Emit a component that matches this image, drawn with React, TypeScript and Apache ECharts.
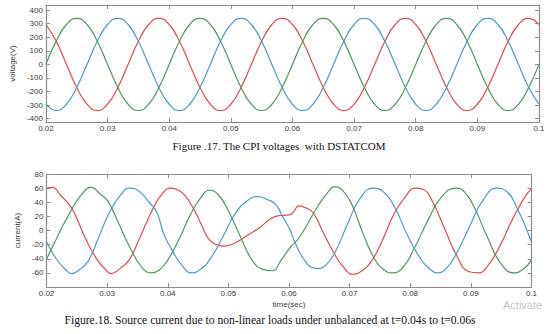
import React, { useEffect, useRef } from "react";
import * as echarts from "echarts";

// ---------- Figure 17: CPI voltages (V) ----------
const voltTime = [
  0.02, 0.02167, 0.02333, 0.025, 0.02667, 0.02833, 0.03, 0.03167, 0.03333, 0.035, 0.03667, 0.03833,
  0.04, 0.04167, 0.04333, 0.045, 0.04667, 0.04833, 0.05, 0.05167, 0.05333, 0.055, 0.05667, 0.05833,
  0.06, 0.06167, 0.06333, 0.065, 0.06667, 0.06833, 0.07, 0.07167, 0.07333, 0.075, 0.07667, 0.07833,
  0.08, 0.08167, 0.08333, 0.085, 0.08667, 0.08833, 0.09, 0.09167, 0.09333, 0.095, 0.09667, 0.09833,
  0.1,
];
const voltRed = [
  294, 170, 0, -170, -294, -340, -294, -170, 0, 170, 294, 340,
  294, 170, 0, -170, -294, -340, -294, -170, 0, 170, 294, 340,
  294, 170, 0, -170, -294, -340, -294, -170, 0, 170, 294, 340,
  294, 170, 0, -170, -294, -340, -294, -170, 0, 170, 294, 340,
  294,
];
const voltGreen = [
  0, 170, 294, 340, 294, 170, 0, -170, -294, -340, -294, -170,
  0, 170, 294, 340, 294, 170, 0, -170, -294, -340, -294, -170,
  0, 170, 294, 340, 294, 170, 0, -170, -294, -340, -294, -170,
  0, 170, 294, 340, 294, 170, 0, -170, -294, -340, -294, -170,
  0,
];
const voltBlue = [
  -294, -340, -294, -170, 0, 170, 294, 340, 294, 170, 0, -170,
  -294, -340, -294, -170, 0, 170, 294, 340, 294, 170, 0, -170,
  -294, -340, -294, -170, 0, 170, 294, 340, 294, 170, 0, -170,
  -294, -340, -294, -170, 0, 170, 294, 340, 294, 170, 0, -170,
  -294,
];
const voltTicks = [-400, -300, -200, -100, 0, 100, 200, 300, 400];

// ---------- Figure 18: source currents (A) ----------
const redTime = [
  0.02, 0.021, 0.0222, 0.0242, 0.0261, 0.0281, 0.0297, 0.0307, 0.0321, 0.0336, 0.0355, 0.0374,
  0.039, 0.0405, 0.0418, 0.0429, 0.0443, 0.0454, 0.0466, 0.0477, 0.0493, 0.0512, 0.0533, 0.0553,
  0.0567, 0.0583, 0.06, 0.0608, 0.0616, 0.0628, 0.064, 0.0656, 0.0673, 0.069, 0.0706, 0.0722,
  0.0737, 0.0754, 0.0773, 0.0792, 0.0808, 0.0822, 0.0836, 0.0855, 0.0877, 0.0896, 0.0912, 0.0927,
  0.0949, 0.0971, 0.0991, 0.1,
];
const redCurrent = [
  60, 61, 51, 31, -5, -38, -55, -61, -54, -42, -8, 28,
  51, 60, 57, 49, 30, 11, -10, -19, -22, -17, -6, 5,
  15, 21, 22, 27, 35, 32, 25, -2, -30, -52, -62, -56,
  -42, -14, 23, 48, 60, 58, 42, 6, -36, -58, -60, -51,
  -20, 20, 50, 59,
];
const greenTime = [
  0.02, 0.0218, 0.0239, 0.0258, 0.0274, 0.0288, 0.0301, 0.0318, 0.034, 0.0358, 0.0373, 0.0386,
  0.04, 0.0421, 0.0436, 0.0454, 0.047, 0.0483, 0.05, 0.052, 0.054, 0.0557, 0.0572, 0.0587,
  0.0602, 0.0616, 0.0631, 0.0648, 0.0664, 0.0675, 0.0689, 0.0704, 0.0722, 0.0741, 0.0757, 0.0771,
  0.0788, 0.0805, 0.0829, 0.0852, 0.0876, 0.0889, 0.0905, 0.0927, 0.0949, 0.0971, 0.0986, 0.1,
];
const greenCurrent = [
  -41, -9, 26, 51, 61, 52, 42, 12, -28, -53, -60, -56,
  -42, -8, 20, 46, 57, 51, 28, -9, -43, -55, -57, -42,
  -24, -11, 10, 35, 54, 62, 56, 36, -4, -40, -56, -60,
  -52, -28, 14, 48, 60, 55, 34, -9, -46, -60, -55, -42,
];
const blueTime = [
  0.02, 0.0216, 0.0232, 0.0241, 0.0255, 0.0269, 0.0285, 0.0303, 0.0322, 0.0338, 0.0355, 0.0369,
  0.0382, 0.0393, 0.0406, 0.0424, 0.044, 0.0454, 0.0471, 0.0492, 0.0512, 0.0534, 0.0549, 0.0564,
  0.0578, 0.059, 0.0601, 0.061, 0.0624, 0.064, 0.065, 0.0663, 0.0676, 0.0696, 0.0717, 0.0739,
  0.0755, 0.0773, 0.0795, 0.0814, 0.0834, 0.0845, 0.0859, 0.0876, 0.0898, 0.092, 0.0943, 0.0958,
  0.0973, 0.1,
];
const blueCurrent = [
  -16, -40, -56, -61, -55, -43, -12, 24, 50, 60, 54, 40,
  26, -4, -26, -50, -60, -55, -39, -7, 25, 44, 48, 44,
  37, 19, 2, -17, -40, -53, -54, -47, -31, 8, 45, 60,
  55, 35, -6, -36, -56, -60, -54, -33, 6, 43, 60, 56,
  38, -16,
];
const currentTicks = [-60, -40, -20, 0, 20, 40, 60, 80];

const caption17 = "Figure .17. The CPI voltages  with DSTATCOM";
const caption18 = "Figure.18. Source current due to non-linear loads under unbalanced at t=0.04s to t=0.06s";

const RED = "#d9504f";
const GREEN = "#4e9a58";
const BLUE = "#4c9cc6";
const FRAME = "#8c8c8c";
const LABEL = "#3c3c3c";

const pairs = (t: number[], v: number[]) => t.map((x, i) => [x, v[i]]);

export default function App() {
  const ref = useRef<HTMLDivElement>(null);
  useEffect(() => {
    if (!ref.current) return;
    const chart = echarts.init(ref.current, null, { renderer: "svg" });
    const fmtX = (v: number) => String(Math.round(v * 100) / 100);
    const labelStyle = { fontFamily: "Liberation Sans", fontSize: 8, color: LABEL };
    const xBottom = (gridIndex: number, extra: any = {}) => ({
      type: "value",
      gridIndex,
      position: "bottom",
      min: 0.02,
      max: 0.1,
      interval: 0.01,
      axisLine: { show: true, onZero: false, lineStyle: { color: FRAME, width: 1.2 } },
      axisTick: { show: true, inside: true, length: 4, lineStyle: { color: FRAME } },
      axisLabel: { ...labelStyle, margin: 2, formatter: fmtX },
      splitLine: { show: false },
      ...extra,
    });
    const xTop = (gridIndex: number) => ({
      type: "value",
      gridIndex,
      position: "top",
      min: 0.02,
      max: 0.1,
      interval: 0.01,
      axisLine: { show: true, onZero: false, lineStyle: { color: FRAME, width: 1.2 } },
      axisTick: { show: true, inside: true, length: 4, lineStyle: { color: FRAME } },
      axisLabel: { show: false },
      splitLine: { show: false },
    });
    const yLeft = (gridIndex: number, min: number, max: number, ticks: number[], name: string, nameGap: number) => ({
      type: "value",
      gridIndex,
      position: "left",
      min,
      max,
      name,
      nameLocation: "middle",
      nameRotate: 90,
      nameGap,
      nameTextStyle: { ...labelStyle },
      axisLine: { show: true, onZero: false, lineStyle: { color: FRAME, width: 1.2 } },
      axisTick: { show: true, inside: true, length: 4, customValues: ticks, lineStyle: { color: FRAME } },
      axisLabel: { ...labelStyle, margin: 3, customValues: ticks },
      splitLine: { show: false },
    });
    const yRight = (gridIndex: number, min: number, max: number, ticks: number[]) => ({
      type: "value",
      gridIndex,
      position: "right",
      min,
      max,
      axisLine: { show: true, onZero: false, lineStyle: { color: FRAME, width: 1.2 } },
      axisTick: { show: true, inside: true, length: 4, customValues: ticks, lineStyle: { color: FRAME } },
      axisLabel: { show: false },
      splitLine: { show: false },
    });
    const line = (name: string, data: number[][], color: string, xi: number, yi: number) => ({
      name,
      type: "line",
      xAxisIndex: xi,
      yAxisIndex: yi,
      data,
      smooth: 0.5,
      showSymbol: false,
      lineStyle: { color, width: 1.2 },
      itemStyle: { color },
    });
    const captionStyle = {
      fontFamily: "Liberation Serif",
      fontSize: 11,
      fontWeight: "normal",
      fill: "#111",
      align: "center",
      verticalAlign: "middle",
    };
    chart.setOption({
      animation: false,
      backgroundColor: "#ffffff",
      grid: [
        { left: 43, top: 5, width: 496, height: 117 },
        { left: 46.5, top: 174, width: 485, height: 113 },
      ],
      xAxis: [
        xBottom(0),
        xTop(0),
        xBottom(1, {
          name: "time(sec)",
          nameLocation: "middle",
          nameGap: 13,
          nameTextStyle: { ...labelStyle },
        }),
        xTop(1),
      ],
      yAxis: [
        yLeft(0, -425, 438, voltTicks, "voltage(V)", 25),
        yRight(0, -425, 438, voltTicks),
        yLeft(1, -80, 80, currentTicks, "current(A)", 18),
        yRight(1, -80, 80, currentTicks),
      ],
      series: [
        line("Va", pairs(voltTime, voltRed), RED, 0, 0),
        line("Vb", pairs(voltTime, voltGreen), GREEN, 0, 0),
        line("Vc", pairs(voltTime, voltBlue), BLUE, 0, 0),
        line("Ia", pairs(redTime, redCurrent), RED, 2, 2),
        line("Ib", pairs(greenTime, greenCurrent), GREEN, 2, 2),
        line("Ic", pairs(blueTime, blueCurrent), BLUE, 2, 2),
      ],
      graphic: [
        {
          type: "text",
          x: 279,
          y: 146,
          style: { text: caption17, ...captionStyle },
        },
        {
          type: "text",
          x: 270,
          y: 320,
          style: { text: caption18, ...captionStyle, fontSize: 11.6 },
        },
        {
          type: "text",
          x: 503,
          y: 305,
          style: {
            text: "Activate",
            fontFamily: "Liberation Sans",
            fontSize: 11,
            fill: "#c4c4c4",
            verticalAlign: "middle",
          },
        },
      ],
    });
    return () => chart.dispose();
  }, []);
  return (
    <div
      ref={ref}
      style={{ position: "fixed", left: 0, top: 0, width: 556, height: 334, background: "#fff" }}
    />
  );
}
